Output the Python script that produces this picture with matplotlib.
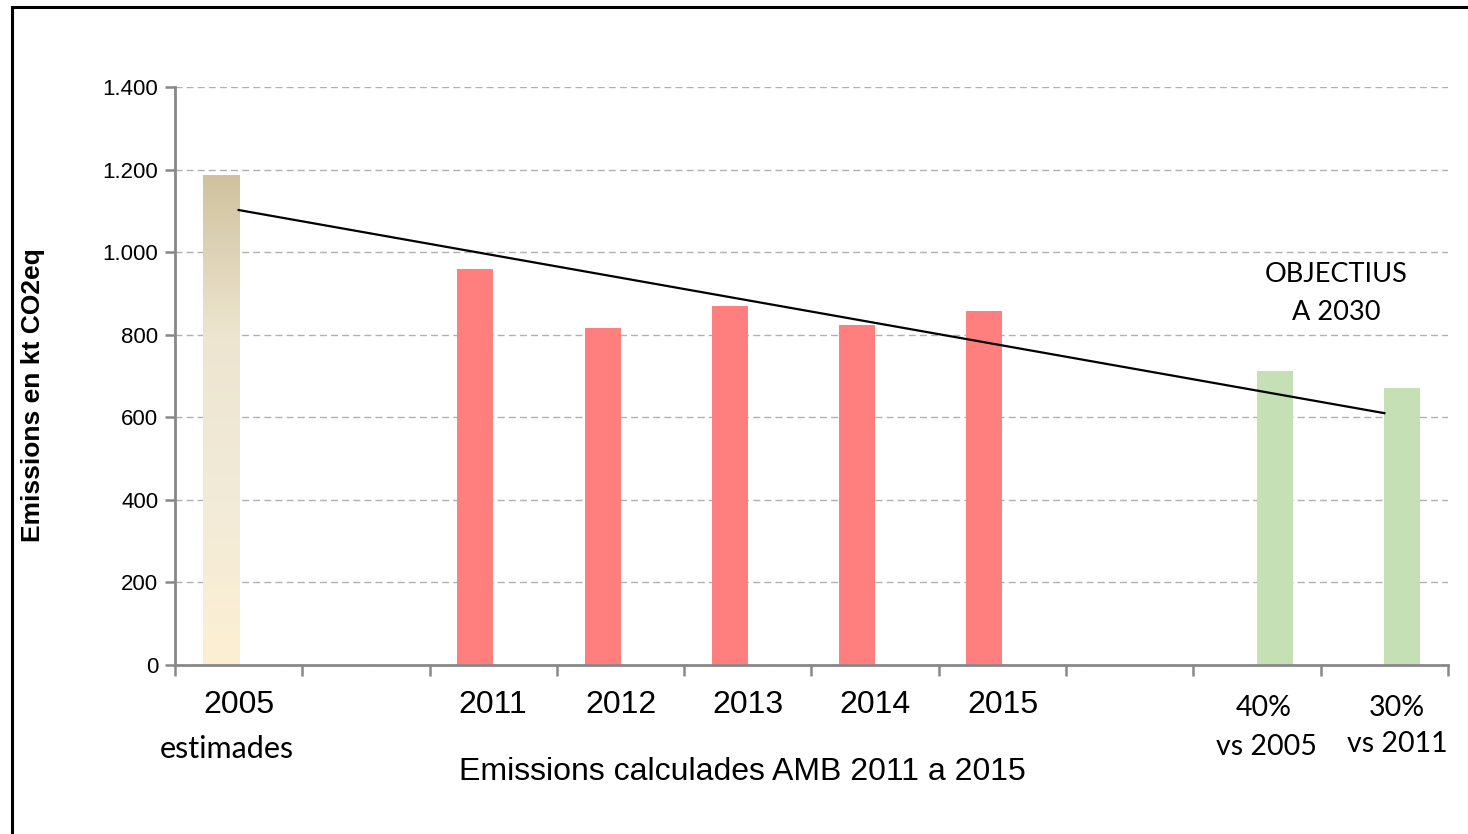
import numpy as np
import matplotlib
matplotlib.use("Agg")
import matplotlib.pyplot as plt
from matplotlib.colors import LinearSegmentedColormap
from matplotlib.patches import Rectangle
import matplotlib.transforms as mtransforms

# ---- data ----
categories = ["2005", "", "2011", "2012", "2013", "2014", "2015", "", "40%", "30%"]
sublabels = ["estimades", "", "", "", "", "", "", "", "vs 2005", "vs 2011"]
estimated_2005 = [1187]
emissions_years = [959, 816, 869, 823, 857]
objectives_2030 = [712, 671]
trend_start_end = [1102, 610]
yticks = [0, 200, 400, 600, 800, 1000, 1200, 1400]
ytick_labels = ["0", "200", "400", "600", "800", "1.000", "1.200", "1.400"]

W, H = 1468, 834
fig = plt.figure(figsize=(W / 100, H / 100), dpi=100)
ax = fig.add_axes([175 / W, 1 - 665 / H, (1448 - 175) / W, (665 - 87) / H])

x = np.arange(len(categories))
bw = 0.283
red = "#FF7F7F"
green = "#C4E0B4"

# 2005 gradient bar
b2005 = ax.bar([x[0] - bw / 2], estimated_2005, width=bw, color="none", edgecolor="none", zorder=3)
cmap = LinearSegmentedColormap.from_list("g", ["#FDEFD3", "#F2EBD8", "#EDE5D0", "#D0C29E"])
grad = np.linspace(0, 1, 256).reshape(-1, 1)
rect = b2005.patches[0]
im = ax.imshow(grad, cmap=cmap, origin="lower", aspect="auto",
               extent=[rect.get_x(), rect.get_x() + rect.get_width(), 0, rect.get_height()],
               zorder=3)
im.set_clip_path(rect)

# yearly bars (left in cluster)
ax.bar(x[2:7] - bw / 2, emissions_years, width=bw, color=red, zorder=3)
# objective bars (right in cluster)
ax.bar(x[8:10] + bw / 2, objectives_2030, width=bw, color=green, zorder=3)

# trend line
ax.plot([x[0], x[9]], trend_start_end, color="black", lw=1.6, zorder=4)

ax.set_xlim(-0.5, 9.5)
ax.set_ylim(0, 1400)
ax.set_yticks(yticks)
ax.set_yticklabels(ytick_labels, fontsize=16, family="Liberation Sans")
ax.set_xticks(np.arange(-0.5, 10, 1))
ax.set_xticklabels([])
ax.tick_params(axis="x", direction="out", length=8, width=1.8, color="#888888")
ax.tick_params(axis="y", direction="out", length=7, width=1.8, color="#888888", pad=5)
ax.yaxis.grid(True, linestyle=(0, (5, 3)), color="#B0B0B0", lw=1.0, zorder=0)
ax.set_axisbelow(True)
for s in ["top", "right"]:
    ax.spines[s].set_visible(False)
for s in ["left", "bottom"]:
    ax.spines[s].set_color("#888888")
    ax.spines[s].set_linewidth(2)
    ax.spines[s].set_zorder(5)

trans = mtransforms.blended_transform_factory(ax.transData, ax.transAxes)
def yax(py):
    return (665 - py) / 578.0

# category labels
arial = "Liberation Sans"
cal = "Lato"
for i in [0, 2, 3, 4, 5, 6]:
    ax.text(x[i], yax(705), categories[i], transform=trans, ha="center", va="center",
            fontsize=23, family=arial)
ax.text(x[0] - 0.09, yax(749), sublabels[0], transform=trans, ha="center", va="center",
        fontsize=22, family=cal)
ax.text(x[8] + 0.05, yax(708), categories[8], transform=trans, ha="center", va="center",
        fontsize=20.5, family=cal)
ax.text(x[8] + 0.07, yax(747), sublabels[8], transform=trans, ha="center", va="center",
        fontsize=20.5, family=cal)
ax.text(x[9] + 0.1, yax(708), categories[9], transform=trans, ha="center", va="center",
        fontsize=20.5, family=cal)
ax.text(x[9] + 0.1, yax(744), sublabels[9], transform=trans, ha="center", va="center",
        fontsize=20.5, family=cal)

fig.text(742 / W, 1 - 772 / H, "Emissions calculades AMB 2011 a 2015", ha="center", va="center",
         fontsize=23, family=arial)
fig.text(33 / W, 1 - 395 / H, "Emissions en kt CO2eq", ha="center", va="center",
         rotation=90, fontsize=19, fontweight="bold", family=arial)
fig.text(1336 / W, 1 - 274 / H, "OBJECTIUS", ha="center", va="center", fontsize=19.5, family=cal)
fig.text(1336 / W, 1 - 312 / H, "A 2030", ha="center", va="center", fontsize=19.5, family=cal)

# outer frame
fig.add_artist(Rectangle((12 / W, -0.05), 1.2, 1 - 7 / H + 0.05, transform=fig.transFigure,
                         fill=False, edgecolor="black", lw=2.2))

fig.savefig("out.png", dpi=100)
